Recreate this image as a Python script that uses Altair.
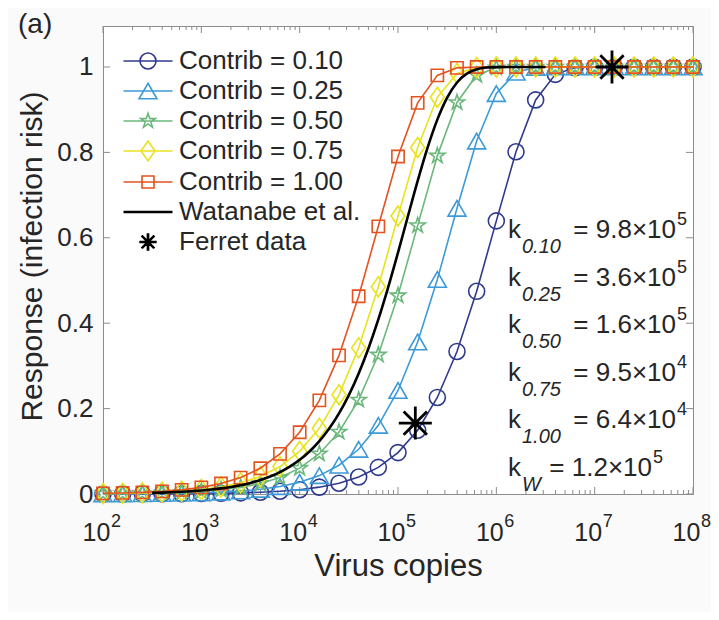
import altair as alt
import pandas as pd

# ---------------- data ----------------
dose = [100, 158.5, 251.2, 398.1, 631.0, 1000, 1585, 2512, 3981, 6310,
        10000, 15849, 25119, 39811, 63096, 100000, 158489, 251189, 398107, 630957,
        1000000, 1584893, 2511886, 3981072, 6309573, 10000000, 15848932, 25118864,
        39810717, 63095734, 100000000]

resp_010 = [0.0001, 0.0002, 0.0003, 0.0004, 0.0006, 0.0010, 0.0016, 0.0026, 0.0041, 0.0064,
            0.0101, 0.0160, 0.0253, 0.0398, 0.0624, 0.0970, 0.1493, 0.2261, 0.3338, 0.4747,
            0.6396, 0.8015, 0.9229, 0.9828, 0.9984, 1, 1, 1, 1, 1, 1]
resp_025 = [0.0003, 0.0004, 0.0007, 0.0011, 0.0018, 0.0028, 0.0044, 0.0070, 0.0110, 0.0174,
            0.0274, 0.0431, 0.0674, 0.1047, 0.1608, 0.2425, 0.3561, 0.5023, 0.6691, 0.8266,
            0.9378, 0.9878, 0.9991, 1, 1, 1, 1, 1, 1, 1, 1]
resp_050 = [0.0006, 0.0010, 0.0016, 0.0025, 0.0039, 0.0062, 0.0099, 0.0156, 0.0246, 0.0387,
            0.0606, 0.0943, 0.1453, 0.2203, 0.3259, 0.4647, 0.6287, 0.7919, 0.9169, 0.9806,
            0.9981, 1, 1, 1, 1, 1, 1, 1, 1, 1, 1]
resp_075 = [0.0011, 0.0017, 0.0026, 0.0042, 0.0066, 0.0105, 0.0165, 0.0261, 0.0410, 0.0643,
            0.0999, 0.1537, 0.2323, 0.3423, 0.4853, 0.6510, 0.8114, 0.9290, 0.9849, 0.9987,
            1, 1, 1, 1, 1, 1, 1, 1, 1, 1, 1]
resp_100 = [0.0016, 0.0025, 0.0039, 0.0062, 0.0098, 0.0155, 0.0245, 0.0385, 0.0603, 0.0939,
            0.1446, 0.2194, 0.3246, 0.4631, 0.6269, 0.7904, 0.9160, 0.9803, 0.9980, 0.9999,
            1, 1, 1, 1, 1, 1, 1, 1, 1, 1, 1]

dose_w = [316.2, 398.1, 501.2, 631.0, 794.3, 1000, 1258.9, 1584.9, 1995.3, 2511.9,
          3162.3, 3981.1, 5011.9, 6309.6, 7943.3, 10000, 12589, 15849, 19953, 25119,
          31623, 39811, 50119, 63096, 79433, 100000, 125893, 158489, 199526, 251189,
          316228, 398107, 501187, 630957, 794328, 1000000, 1258925, 1584893, 1995262,
          2511886, 3162278]
resp_w = [0.0026, 0.0033, 0.0042, 0.0052, 0.0066, 0.0083, 0.0104, 0.0131, 0.0165, 0.0207,
          0.0260, 0.0326, 0.0409, 0.0512, 0.0640, 0.0800, 0.0996, 0.1237, 0.1532, 0.1888,
          0.2316, 0.2823, 0.3414, 0.4089, 0.4841, 0.5654, 0.6498, 0.7331, 0.8104, 0.8767,
          0.9283, 0.9638, 0.9846, 0.9948, 0.9987, 0.9998, 1, 1, 1, 1, 1]

ferret_dose = [150000, 15000000]
ferret_resp = [0.166, 1.0]

series_names = ["Contrib = 0.10", "Contrib = 0.25", "Contrib = 0.50",
                "Contrib = 0.75", "Contrib = 1.00"]
legend_labels = series_names + ["Watanabe et al.", "Ferret data"]

k_subs = ["0.10", "0.25", "0.50", "0.75", "1.00", "W"]
k_vals = ["9.8", "3.6", "1.6", "9.5", "6.4", "1.2"]
k_exps = ["5", "5", "5", "4", "4", "5"]

x_ticks = [1e2, 1e3, 1e4, 1e5, 1e6, 1e7, 1e8]
x_tick_exps = ["2", "3", "4", "5", "6", "7", "8"]
y_ticks = [0, 0.2, 0.4, 0.6, 0.8, 1.0]

# ---------------- styling ----------------
FONT = "Liberation Sans, Arial, Helvetica, sans-serif"
TXT = "#262626"
AX = "#8c8c8c"
W, H = 590, 468

colors = ["#2f3a8e", "#3d9ad8", "#6cb87c", "#e9e21c", "#e4521f"]

pentagram = ("M0,-1L0.225,-0.309L0.951,-0.309L0.363,0.118L0.588,0.809L0,0.382"
             "L-0.588,0.809L-0.363,0.118L-0.951,-0.309L-0.225,-0.309Z")
diamond = "M0,-1L0.7,0L0,1L-0.7,0Z"
asterisk = ("M-1,0L1,0M0,-1L0,1M-0.707,-0.707L0.707,0.707M-0.707,0.707L0.707,-0.707")

plot_shapes = ["circle", "triangle-up", pentagram, diamond, "square"]
plot_sizes = [256, 324, 256, 400, 150]


def star_path(s, dx=0.0, dy=0.0):
    outer = [(0, -1), (0.225, -0.309), (0.951, -0.309), (0.363, 0.118), (0.588, 0.809),
             (0, 0.382), (-0.588, 0.809), (-0.363, 0.118), (-0.951, -0.309), (-0.225, -0.309)]
    pts = ["%.3f,%.3f" % (x * s + dx, y * s + dy) for x, y in outer]
    return "M" + "L".join(pts) + "Z"


def ast_path(r):
    d = 0.707 * r
    segs = []
    for o in (-0.04, 0.0, 0.04):
        segs.append("M%.3f,%.3fL%.3f,%.3f" % (-r, o, r, o))
        segs.append("M%.3f,%.3fL%.3f,%.3f" % (o, -r, o, r))
        segs.append("M%.3f,%.3fL%.3f,%.3f" % (-d + o, -d, d + o, d))
        segs.append("M%.3f,%.3fL%.3f,%.3f" % (-d + o, d, d + o, -d))
    return "".join(segs)


LINE = "M-1.75,0L1.75,0"
legend_shapes = [
    LINE + "M-0.57,0A0.57,0.57 0 1 1 0.57,0A0.57,0.57 0 1 1 -0.57,0",
    LINE + "M0,-0.554L0.64,0.554L-0.64,0.554Z",
    LINE + star_path(0.55),
    LINE + "M0,-0.71L0.5,0L0,0.71L-0.5,0Z",
    LINE + "M-0.43,-0.43L0.43,-0.43L0.43,0.43L-0.43,0.43Z",
    "M-1.75,-0.04L1.75,-0.04M-1.75,0.04L1.75,0.04",
    ast_path(0.62),
]
legend_colors = colors + ["#000000", "#000000"]

xs = alt.Scale(type="log", domain=[100, 1e8], nice=False)
ys = alt.Scale(domain=[0, 1.096], nice=False, zero=False)

xaxis = alt.Axis(title="Virus copies", labels=False, ticks=False, domain=False, grid=False,
                 titleFont=FONT, titleFontSize=31, titleFontWeight="normal", titleColor=TXT,
                 titleX=W / 2, titleY=81, titleBaseline="alphabetic", titleAlign="center")
yaxis = alt.Axis(title="Response (infection risk)", values=y_ticks,
                 labelExpr="datum.value == 0 ? '0' : datum.value == 1 ? '1' : format(datum.value, '.1f')",
                 ticks=False, tickSize=0, domain=False, grid=False, labelPadding=10,
                 labelFont=FONT, labelFontSize=26, labelColor=TXT,
                 titleFont=FONT, titleFontSize=30, titleFontWeight="normal", titleColor=TXT,
                 titleX=-62, titleY=H / 2 - 4, titleBaseline="alphabetic", titleAlign="center")


def X(f):
    return alt.X(f, scale=xs, axis=xaxis)


def Y(f):
    return alt.Y(f, scale=ys, axis=yaxis)


layers = []

# ---- ticks (inward, MATLAB style box) ----
minor = [m * 10 ** e for e in range(2, 8) for m in range(2, 10)]
df_major = pd.DataFrame({"v": x_ticks})
df_minor = pd.DataFrame({"v": minor})
df_yt = pd.DataFrame({"v": y_ticks})
for df, ln in ((df_major, 7), (df_minor, 4)):
    layers.append(alt.Chart(df).mark_rule(color=AX, strokeWidth=1).encode(
        x=X("v:Q"), y=alt.value(H), y2=alt.value(H - ln)))
    layers.append(alt.Chart(df).mark_rule(color=AX, strokeWidth=1).encode(
        x=X("v:Q"), y=alt.value(0), y2=alt.value(ln)))
layers.append(alt.Chart(df_yt).mark_rule(color=AX, strokeWidth=1).encode(
    y=Y("v:Q"), x=alt.value(0), x2=alt.value(7)))
layers.append(alt.Chart(df_yt).mark_rule(color=AX, strokeWidth=1).encode(
    y=Y("v:Q"), x=alt.value(W), x2=alt.value(W - 7)))

# ---- x tick labels: 10 with superscript ----
df_xl = pd.DataFrame({"v": x_ticks, "e": x_tick_exps})
layers.append(alt.Chart(df_xl).mark_text(align="center", baseline="alphabetic", dx=-6.5,
                                         font=FONT, fontSize=25, color=TXT).encode(
    x=X("v:Q"), y=alt.value(515), text=alt.value("10")))
layers.append(alt.Chart(df_xl).mark_text(align="left", baseline="alphabetic", dx=8,
                                         font=FONT, fontSize=18, color=TXT).encode(
    x=X("v:Q"), y=alt.value(501), text="e:N"))

# ---- model curves ----
all_resp = [resp_010, resp_025, resp_050, resp_075, resp_100]
for name, r, c, shp, sz in zip(series_names, all_resp, colors, plot_shapes, plot_sizes):
    df = pd.DataFrame({"dose": dose, "resp": r})
    base = alt.Chart(df).encode(x=X("dose:Q"), y=Y("resp:Q"))
    layers.append(base.mark_line(color=c, strokeWidth=1.6))
    layers.append(base.mark_point(shape=shp, size=sz, filled=False, color=c,
                                  strokeWidth=1.6, opacity=1))

# Watanabe curve
df_w = pd.DataFrame({"dose": dose_w, "resp": resp_w})
layers.append(alt.Chart(df_w).mark_line(color="black", strokeWidth=2.6,
                                        interpolate="monotone").encode(
    x=X("dose:Q"), y=Y("resp:Q")))

# Ferret data
df_f = pd.DataFrame({"dose": ferret_dose, "resp": ferret_resp})
layers.append(alt.Chart(df_f).mark_point(shape=asterisk, size=1089, filled=False,
                                         color="black", strokeWidth=2.8, opacity=1).encode(
    x=X("dose:Q"), y=Y("resp:Q")))

# ---- k annotations ----
rows = list(range(len(k_subs)))
df_k = pd.DataFrame({"sub": k_subs, "val": k_vals, "exp": k_exps, "row": rows})
df_k["yb"] = 212 + 47.5 * df_k["row"]
df_k["ys"] = df_k["yb"] + 15
df_k["yp"] = df_k["yb"] - 13
df_k["xp"] = [574 if s != "W" else 550 for s in k_subs]
df_k["xe"] = df_k["xp"] - 1
df_k["eq"] = "= " + df_k["val"] + "\u00d710"

layers.append(alt.Chart(df_k).mark_text(align="left", baseline="alphabetic", font=FONT,
                                        fontSize=26, color=TXT).encode(
    x=alt.value(405), y=alt.Y("yb:Q", scale=None, axis=None), text=alt.value("k")))
layers.append(alt.Chart(df_k).mark_text(align="left", baseline="alphabetic", font=FONT,
                                        fontSize=20, fontStyle="italic", color=TXT).encode(
    x=alt.value(419), y=alt.Y("ys:Q", scale=None, axis=None), text="sub:N"))
layers.append(alt.Chart(df_k).mark_text(align="right", baseline="alphabetic", font=FONT,
                                        fontSize=26, color=TXT).encode(
    x=alt.X("xe:Q", scale=None, axis=None), y=alt.Y("yb:Q", scale=None, axis=None),
    text="eq:N"))
layers.append(alt.Chart(df_k).mark_text(align="left", baseline="alphabetic", font=FONT,
                                        fontSize=18, color=TXT).encode(
    x=alt.X("xp:Q", scale=None, axis=None), y=alt.Y("yp:Q", scale=None, axis=None),
    text="exp:N"))

# ---- panel label ----
layers.append(alt.Chart(pd.DataFrame({"t": ["(a)"]})).mark_text(
    align="left", baseline="alphabetic", font=FONT, fontSize=28, color=TXT).encode(
    x=alt.value(-85), y=alt.value(7), text="t:N"))

# ---- legend ----
leg = alt.Legend(orient="none", legendX=30, legendY=20, title=None, padding=0,
                 rowPadding=2, symbolSize=784, symbolStrokeWidth=1.6,
                 symbolFillColor="transparent", symbolOpacity=1, labelFont=FONT,
                 labelFontSize=26, labelColor=TXT, labelOffset=16, labelLimit=0)
df_leg = pd.DataFrame({"leg": legend_labels})
layers.append(alt.Chart(df_leg).mark_point(opacity=0, filled=False).encode(
    x=alt.value(0), y=alt.value(0),
    color=alt.Color("leg:N", scale=alt.Scale(domain=legend_labels, range=legend_colors),
                    legend=leg),
    shape=alt.Shape("leg:N", scale=alt.Scale(domain=legend_labels, range=legend_shapes),
                    legend=leg)))

chart = alt.layer(*layers).properties(
    width=W, height=H,
    autosize=alt.AutoSizeParams(type="none"),
    padding={"left": 95, "top": 18, "right": 18, "bottom": 118},
    background="#fafafa",
).configure(font=FONT).configure_view(stroke=AX, strokeWidth=1, fill="white")

chart.save("out.html", embed_options={"renderer": "svg", "actions": False})
